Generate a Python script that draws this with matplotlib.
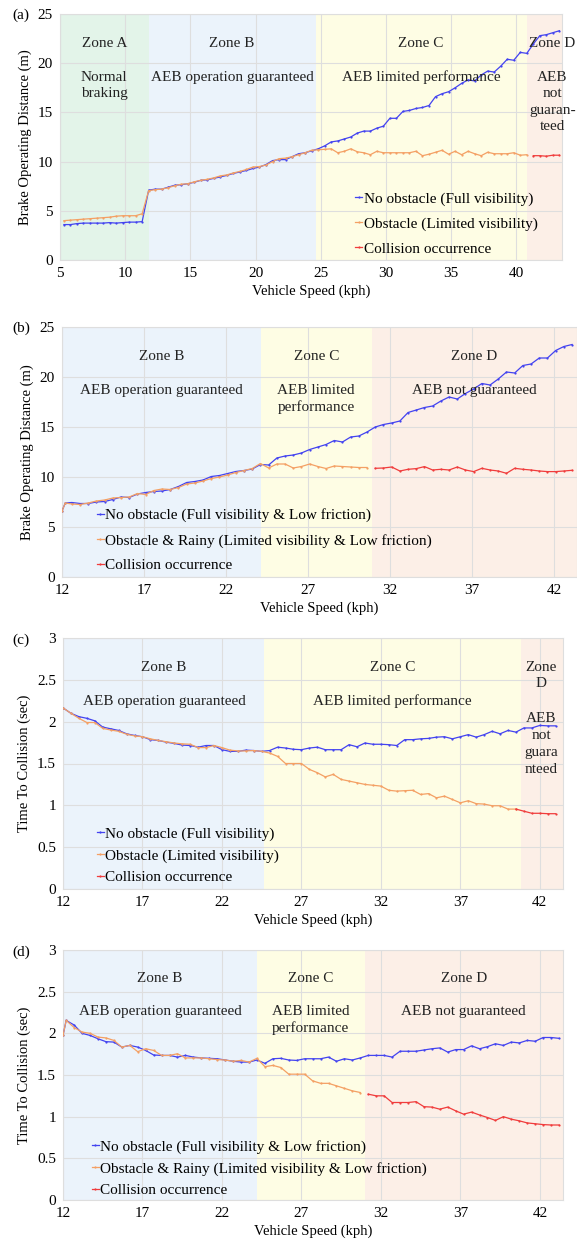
import matplotlib
matplotlib.use("Agg")
import matplotlib.pyplot as plt
import matplotlib.transforms as mtransforms
import numpy as np

plt.rcParams['font.family'] = ['Liberation Serif', 'DejaVu Serif']

# ---- data ----
# (a) brake operating distance, normal road
speed_a = [5.3, 5.8, 6.3, 6.8, 7.3, 7.8, 8.3, 8.8, 9.3, 9.8, 10.3, 10.8, 11.3,
           11.8, 12.3, 12.8, 13.3, 13.8, 14.3, 14.8, 15.3, 15.8, 16.3, 16.8, 17.3,
           17.8, 18.3, 18.8, 19.3, 19.8, 20.3, 20.8, 21.3, 21.8, 22.3, 22.8, 23.3,
           23.8, 24.3, 24.8, 25.3, 25.8, 26.3, 26.8, 27.3, 27.8, 28.3, 28.8, 29.3,
           29.8, 30.3, 30.8, 31.3, 31.8, 32.3, 32.8, 33.3, 33.8, 34.3, 34.8, 35.3,
           35.8, 36.3, 36.8, 37.3, 37.8, 38.3, 38.8, 39.3, 39.8, 40.3, 40.8, 41.3,
           41.8, 42.3, 42.8, 43.3]
no_obs_a = [3.6, 3.6, 3.7, 3.75, 3.75, 3.75, 3.75, 3.8, 3.75, 3.8, 3.85, 3.85, 3.9,
            7.1, 7.2, 7.2, 7.4, 7.6, 7.65, 7.75, 7.9, 8.1, 8.15, 8.3, 8.45, 8.6, 8.8,
            8.95, 9.1, 9.3, 9.45, 9.7, 10.1, 10.2, 10.2, 10.5, 10.8, 10.9, 11.1, 11.3,
            11.6, 12.0, 12.1, 12.3, 12.5, 12.9, 13.1, 13.1, 13.4, 13.6, 14.4, 14.4,
            15.1, 15.2, 15.4, 15.5, 15.7, 16.6, 16.9, 17.1, 17.5, 17.95, 18.3, 18.2,
            18.8, 19.2, 19.1, 19.7, 20.4, 20.3, 21.1, 21.0, 21.95, 22.8, 22.9, 23.1, 23.3]
obs_a = [4.0, 4.05, 4.1, 4.15, 4.2, 4.25, 4.3, 4.35, 4.45, 4.5, 4.5, 4.5, 4.7,
         7.05, 7.15, 7.2, 7.35, 7.55, 7.7, 7.75, 7.95, 8.1, 8.2, 8.35, 8.55, 8.65,
         8.85, 9.0, 9.2, 9.45, 9.5, 9.65, 10.0, 10.3, 10.35, 10.5, 10.7, 10.9, 11.15,
         11.2, 11.25, 11.3, 10.9, 11.05, 11.3, 11.0, 10.9, 10.7, 11.05, 10.9, 10.9,
         10.9, 10.9, 10.9, 11.05, 10.6, 10.75, 10.95, 11.15, 10.75, 11.05, 10.7,
         11.05, 10.8, 10.6, 10.95, 10.8, 10.8, 10.8, 10.9, 10.65, 10.7]
crash_a = [10.6, 10.6, 10.55, 10.65, 10.65]

# (b) brake operating distance, low friction / rain
speed_b = [12.0, 12.2, 12.6, 13.1, 13.6, 14.1, 14.6, 15.1, 15.6, 16.1, 16.6, 17.1,
           17.6, 18.1, 18.6, 19.1, 19.6, 20.1, 20.6, 21.1, 21.6, 22.1, 22.6, 23.1,
           23.6, 24.1, 24.6, 25.1, 25.6, 26.1, 26.6, 27.1, 27.6, 28.1, 28.6, 29.1,
           29.6, 30.1, 30.6, 31.1, 31.6, 32.1, 32.6, 33.1, 33.6, 34.1, 34.6, 35.1,
           35.6, 36.1, 36.6, 37.1, 37.6, 38.1, 38.6, 39.1, 39.6, 40.1, 40.6, 41.1,
           41.6, 42.1, 42.6, 43.1]
no_obs_b = [6.6, 7.4, 7.45, 7.35, 7.35, 7.5, 7.55, 7.75, 8.0, 7.95, 8.3, 8.45, 8.55,
            8.6, 8.75, 9.05, 9.45, 9.55, 9.7, 10.05, 10.15, 10.35, 10.55, 10.65, 10.8,
            11.25, 11.2, 11.9, 12.1, 12.2, 12.4, 12.75, 13.0, 13.25, 13.65, 13.5, 14.0,
            14.1, 14.5, 15.0, 15.25, 15.4, 15.6, 16.45, 16.7, 16.95, 17.1, 17.6, 18.0,
            17.8, 18.35, 18.8, 19.35, 19.2, 19.8, 20.5, 20.4, 21.15, 21.3, 21.9, 21.9,
            22.65, 23.05, 23.25]
obs_b = [6.6, 7.4, 7.3, 7.25, 7.4, 7.6, 7.7, 7.9, 7.95, 8.0, 8.35, 8.25, 8.65, 8.8,
         8.75, 8.95, 9.3, 9.4, 9.6, 9.85, 10.0, 10.2, 10.45, 10.65, 10.85, 11.35, 10.9,
         11.3, 11.3, 10.9, 11.05, 11.3, 11.05, 10.85, 11.1, 11.05, 11.0, 10.95, 10.95]
crash_b = [10.87, 10.9, 11.0, 10.6, 10.77, 10.84, 11.04, 10.7, 10.77, 10.7, 11.0,
           10.7, 10.54, 10.87, 10.7, 10.6, 10.37, 10.87, 10.77, 10.7, 10.6, 10.54,
           10.54, 10.6, 10.67]

# (c) time to collision, normal road
speed_c = [12.0, 12.5, 13.0, 13.5, 14.0, 14.5, 15.0, 15.5, 16.0, 16.5, 17.0, 17.5,
           18.0, 18.5, 19.0, 19.5, 20.0, 20.5, 21.0, 21.5, 22.0, 22.5, 23.0, 23.5,
           24.0, 24.5, 25.0, 25.5, 26.0, 26.5, 27.0, 27.5, 28.0, 28.5, 29.0, 29.5,
           30.0, 30.5, 31.0, 31.5, 32.0, 32.5, 33.0, 33.5, 34.0, 34.5, 35.0, 35.5,
           36.0, 36.5, 37.0, 37.5, 38.0, 38.5, 39.0, 39.5, 40.0, 40.5, 41.0, 41.5,
           42.0, 42.5, 43.0]
no_obs_c = [2.165, 2.10, 2.06, 2.04, 2.01, 1.935, 1.915, 1.895, 1.855, 1.835, 1.82,
            1.785, 1.775, 1.755, 1.74, 1.72, 1.715, 1.695, 1.715, 1.715, 1.665, 1.645,
            1.645, 1.66, 1.655, 1.645, 1.655, 1.695, 1.685, 1.67, 1.665, 1.685, 1.695,
            1.665, 1.665, 1.665, 1.725, 1.70, 1.745, 1.73, 1.73, 1.725, 1.715, 1.785,
            1.785, 1.795, 1.80, 1.815, 1.82, 1.795, 1.82, 1.845, 1.815, 1.845, 1.885,
            1.855, 1.895, 1.875, 1.925, 1.925, 1.955, 1.95, 1.95]
obs_c = [2.165, 2.10, 2.04, 1.99, 1.99, 1.92, 1.90, 1.885, 1.85, 1.83, 1.82, 1.795,
         1.775, 1.76, 1.745, 1.735, 1.73, 1.69, 1.69, 1.715, 1.69, 1.66, 1.65, 1.65,
         1.655, 1.645, 1.625, 1.585, 1.50, 1.50, 1.50, 1.43, 1.39, 1.34, 1.37, 1.31,
         1.29, 1.27, 1.25, 1.24, 1.23, 1.18, 1.17, 1.175, 1.18, 1.13, 1.14, 1.09,
         1.11, 1.07, 1.03, 1.055, 1.02, 1.015, 0.995, 0.995, 0.955, 0.955]
crash_c = [0.955, 0.93, 0.905, 0.905, 0.90, 0.90]

# (d) time to collision, low friction / rain
speed_d = [12.0, 12.2, 12.7, 13.2, 13.7, 14.2, 14.7, 15.2, 15.7, 16.2, 16.7, 17.2,
           17.7, 18.2, 18.7, 19.2, 19.7, 20.2, 20.7, 21.2, 21.7, 22.2, 22.7, 23.2,
           23.7, 24.2, 24.7, 25.2, 25.7, 26.2, 26.7, 27.2, 27.7, 28.2, 28.7, 29.2,
           29.7, 30.2, 30.7, 31.2, 31.7, 32.2, 32.7, 33.2, 33.7, 34.2, 34.7, 35.2,
           35.7, 36.2, 36.7, 37.2, 37.7, 38.2, 38.7, 39.2, 39.7, 40.2, 40.7, 41.2,
           41.7, 42.2, 42.7, 43.2]
no_obs_d = [1.975, 2.155, 2.10, 2.00, 1.975, 1.935, 1.90, 1.895, 1.835, 1.855, 1.835,
            1.795, 1.74, 1.735, 1.735, 1.715, 1.735, 1.715, 1.705, 1.70, 1.695, 1.68,
            1.665, 1.655, 1.655, 1.68, 1.64, 1.695, 1.70, 1.68, 1.675, 1.695, 1.695,
            1.695, 1.715, 1.665, 1.695, 1.68, 1.705, 1.735, 1.735, 1.735, 1.715, 1.785,
            1.785, 1.785, 1.80, 1.815, 1.825, 1.775, 1.805, 1.805, 1.85, 1.815, 1.84,
            1.875, 1.855, 1.895, 1.885, 1.915, 1.905, 1.95, 1.95, 1.94]
obs_d = [1.975, 2.155, 2.07, 2.015, 2.00, 1.955, 1.945, 1.915, 1.835, 1.855, 1.78,
         1.815, 1.795, 1.735, 1.735, 1.755, 1.705, 1.705, 1.705, 1.695, 1.685, 1.68,
         1.665, 1.675, 1.655, 1.70, 1.60, 1.615, 1.59, 1.51, 1.51, 1.51, 1.43, 1.40,
         1.40, 1.37, 1.34, 1.31, 1.29]
crash_d = [1.27, 1.25, 1.25, 1.17, 1.17, 1.17, 1.18, 1.12, 1.115, 1.09, 1.115, 1.07,
           1.03, 1.055, 1.02, 0.99, 0.955, 1.0, 0.97, 0.95, 0.925, 0.915, 0.905, 0.9, 0.9]

# zone boundaries (kph)
edges_a = [5, 11.8, 24.6, 40.85, 43.5]
edges_b = [12, 24.15, 30.9, 43.4]
edges_c = [12, 24.65, 40.8, 43.46]
edges_d = [12, 24.22, 31.0, 43.45]

labels_normal = ['No obstacle (Full visibility)', 'Obstacle (Limited visibility)',
                 'Collision occurrence']
labels_rain = ['No obstacle (Full visibility & Low friction)',
               'Obstacle & Rainy (Limited visibility & Low friction)',
               'Collision occurrence']

ZONE_COLORS = {'A': '#e3f4e9', 'B': '#ebf3fb', 'C': '#fefde4', 'D': '#fcefe7'}
BLUE, ORANGE, RED = '#4343f0', '#f4a064', '#f03c3c'
GRID = '#dedede'

W, H = 577, 1242
fig = plt.figure(figsize=(W / 100, H / 100), dpi=100)


def make_axes(left, top, right, bottom):
    return fig.add_axes([left / W, 1 - bottom / H, (right - left) / W, (bottom - top) / H])


def draw_panel(ax, edges, zones, speed, no_obs, obs, crash, labels,
               ylim, yticks, xticks, ylabel, leg_pos, leg_space):
    for i, z in enumerate(zones):
        ax.axvspan(edges[i], edges[i + 1], color=ZONE_COLORS[z], lw=0, zorder=0)
    n_obs = len(obs)
    n_crash = len(crash)
    style = dict(lw=0.9, marker='o', ms=1.6, mew=0, zorder=3)
    ax.plot(speed, no_obs, color=BLUE, label=labels[0], **style)
    ax.plot(speed[:n_obs], obs, color=ORANGE, label=labels[1], **style)
    ax.plot(speed[-n_crash:], crash, color=RED, label=labels[2], **style)

    ax.set_xlim(edges[0], edges[-1])
    ax.set_ylim(*ylim)
    ax.set_xticks(xticks)
    ax.set_yticks(yticks)
    ax.set_yticklabels(['%g' % v for v in yticks])
    ax.grid(True, color=GRID, lw=0.8, zorder=1)
    ax.set_axisbelow(True)
    ax.tick_params(length=0, labelsize=11, pad=5)
    for s in ax.spines.values():
        s.set_color(GRID)
        s.set_linewidth(0.8)
    ax.set_xlabel('Vehicle Speed (kph)', fontsize=10.5, labelpad=3)
    ax.set_ylabel(ylabel, fontsize=10.5, labelpad=4)
    ax.legend(loc='upper left', bbox_to_anchor=leg_pos, frameon=False, fontsize=11,
              handlelength=0.45, handletextpad=0.1, labelspacing=leg_space,
              borderpad=0, borderaxespad=0)


def zone_text(ax, x, y, s, step=16.5):
    # one text per line so the first line sits exactly at y
    for i, line in enumerate(s.split('\n')):
        tr = mtransforms.offset_copy(ax.transData, fig=fig, y=-i * step, units='dots')
        ax.text(x, y, line, ha='center', va='center_baseline', fontsize=11,
                color='#222222', zorder=4, transform=tr)


# (a)
ax = make_axes(60, 14, 562, 260)
draw_panel(ax, edges_a, 'ABCD', speed_a, no_obs_a, obs_a, crash_a, labels_normal,
           (0, 25), [0, 5, 10, 15, 20, 25], [5, 10, 15, 20, 25, 30, 35, 40],
           'Brake Operating Distance (m)', (0.588, 0.277), 0.73)
for x, t in zip([8.4, 18.2, 32.7, 42.75], ['Zone A', 'Zone B', 'Zone C', 'Zone D']):
    zone_text(ax, x, 22.2, t)
for x, t in zip([8.4, 18.2, 32.7, 42.75],
                ['Normal\nbraking', 'AEB operation guaranteed', 'AEB limited performance',
                 'AEB\nnot\nguaran-\nteed']):
    zone_text(ax, x, 18.7, t)

# (b)
ax = make_axes(62, 327, 577, 577)
draw_panel(ax, edges_b, 'BCD', speed_b, no_obs_b, obs_b, crash_b, labels_rain,
           (0, 25), [0, 5, 10, 15, 20, 25], [12, 17, 22, 27, 32, 37, 42],
           'Brake Operating Distance (m)', (0.068, 0.274), 0.73)
for x, t in zip([18.07, 27.5, 37.15], ['Zone B', 'Zone C', 'Zone D']):
    zone_text(ax, x, 22.2, t)
for x, t in zip([18.07, 27.5, 37.15],
                ['AEB operation guaranteed', 'AEB limited\nperformance', 'AEB not guaranteed']):
    zone_text(ax, x, 18.8, t)

# (c)
ax = make_axes(63, 638, 563, 889)
draw_panel(ax, edges_c, 'BCD', speed_c, no_obs_c, obs_c, crash_c, labels_normal,
           (0, 3), [0, 0.5, 1, 1.5, 2, 2.5, 3], [12, 17, 22, 27, 32, 37, 42],
           'Time To Collision (sec)', (0.068, 0.247), 0.52)
for x, t in zip([18.35, 32.75, 42.1], ['Zone B', 'Zone C', 'Zone\nD']):
    zone_text(ax, x, 2.67, t)
zone_text(ax, 18.35, 2.26, 'AEB operation guaranteed')
zone_text(ax, 32.75, 2.26, 'AEB limited performance')
zone_text(ax, 42.1, 2.06, 'AEB\nnot\nguara\nnteed', step=17)

# (d)
ax = make_axes(63, 950, 563, 1200)
draw_panel(ax, edges_d, 'BCD', speed_d, no_obs_d, obs_d, crash_d, labels_rain,
           (0, 3), [0, 0.5, 1, 1.5, 2, 2.5, 3], [12, 17, 22, 27, 32, 37, 42],
           'Time To Collision (sec)', (0.058, 0.24), 0.52)
for x, t in zip([18.1, 27.57, 37.2], ['Zone B', 'Zone C', 'Zone D']):
    zone_text(ax, x, 2.68, t)
for x, t in zip([18.1, 27.57, 37.2],
                ['AEB operation guaranteed', 'AEB limited\nperformance', 'AEB not guaranteed']):
    zone_text(ax, x, 2.28, t)

for lab, y in zip(['(a)', '(b)', '(c)', '(d)'], [15, 328, 640, 952]):
    fig.text(12 / W, 1 - y / H, lab, fontsize=11, va='center', ha='left')

fig.savefig('out.png', dpi=100)
